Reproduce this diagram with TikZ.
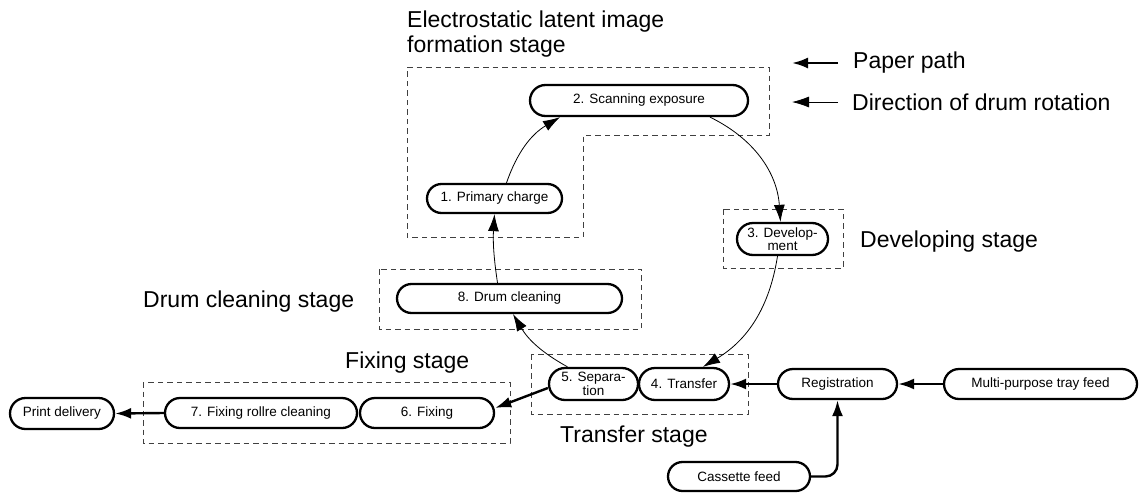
\documentclass[tikz,border=0pt]{standalone}
\usepackage{fontspec}
\setmainfont{Liberation Sans}
\usetikzlibrary{arrows.meta,shapes.misc}
\begin{document}
\begin{tikzpicture}[x=1pt,y=-1pt,
  proc/.style={rounded rectangle, draw, line width=2.3pt, inner sep=0pt, font=\fontsize{13.5}{13.5}\selectfont, align=center},
  stage/.style={draw=black!75, line width=0.9pt, dash pattern=on 5.5pt off 4pt},
  lbl/.style={inner sep=0pt, anchor=west, font=\fontsize{23}{25}\selectfont, align=left},
  paper/.style={line width=2.4pt, -{Latex[length=16pt,width=11pt]}},
  drum/.style={line width=0.8pt, -{Latex[length=17pt,width=11pt]}},
]
\useasboundingbox (0,0) rectangle (1143,493);

% stage boxes
\draw[stage] (407,67) -- (769,67) -- (769,135) -- (583,135) -- (583,237) -- (407,237) -- cycle;
\draw[stage] (723,209) rectangle (843,268);
\draw[stage] (531,354) rectangle (748,414);
\draw[stage] (379,269) rectangle (641,329);
\draw[stage] (143,382) rectangle (510,443);

% labels
\node[lbl] (t1) at (407,34) {Electrostatic latent image\\formation stage};
\node[lbl] (ppt) at (853,63) {Paper path};
\node[lbl] (drt) at (852,102) {Direction of drum rotation};
\node[lbl] (dev) at (860,242) {Developing stage};
\node[lbl] (dcs) at (143,302) {Drum cleaning stage};
\node[lbl] (fxs) at (345,363) {Fixing stage};
\node[lbl] (trs) at (560,437) {Transfer stage};

% legend arrows
\coordinate (pa) at (838,63);
\coordinate (pb) at (792,63);
\coordinate (da) at (838,102);
\coordinate (db) at (792,102);
\draw[paper] (pa) -- (pb);
\draw[drum] (da) -- (db);

% process nodes
\node[proc, minimum width=218pt, minimum height=31pt] (n2) at (639,100.5) {2. Scanning exposure};
\node[proc, minimum width=135pt, minimum height=29pt] (n1) at (494.5,198.5) {1. Primary charge};
\node[proc, minimum width=91pt, minimum height=32pt] (n3) at (782.5,239) {3. Develop-\\ment};
\node[proc, minimum width=89pt, minimum height=32pt] (n5) at (593.5,384) {5. Separa-\\tion};
\node[proc, minimum width=90pt, minimum height=32pt] (n4) at (684,384) {4. Transfer};
\node[proc, minimum width=225pt, minimum height=29pt] (n8) at (509.5,298.5) {8. Drum cleaning};
\node[proc, minimum width=192pt, minimum height=30pt] (n7) at (261,413) {7. Fixing rollre cleaning};
\node[proc, minimum width=134pt, minimum height=30pt] (n6) at (427,413) {6. Fixing};
\node[proc, minimum width=104pt, minimum height=31pt] (pd) at (62,413.5) {Print delivery};
\node[proc, minimum width=119pt, minimum height=30pt] (reg) at (837.5,384) {Registration};
\node[proc, minimum width=193pt, minimum height=30pt] (mp) at (1040.5,384) {Multi-purpose tray feed};
\node[proc, minimum width=142pt, minimum height=29pt] (cf) at (739,476.5) {Cassette feed};

% drum rotation arrows
\draw[drum] ([xshift=12pt]n1.north) to[bend left=20] ([xshift=-79pt]n2.south);
\draw[drum] ([xshift=71pt]n2.south) to[bend left=30] ([xshift=-2pt]n3.north);
\draw[drum] ([xshift=-5pt]n3.south) to[bend left=25] ([xshift=19pt]n4.north);
\draw[drum] ([xshift=-26pt]n5.north) to[bend left=15] ([xshift=3.5pt]n8.south);
\draw[drum] ([xshift=-12pt]n8.north) to[bend left=6] (n1.south);

% paper path arrows
\draw[paper] (mp.west) -- (reg.east);
\draw[paper] (reg.west) -- (n4.east);
\draw[paper, rounded corners=12pt] (cf.east) -| (reg.south);
\draw[paper] ([yshift=-4pt]n5.west) -- ([yshift=5pt]n6.east);
\draw[paper] (n7.west) -- (pd.east);
\end{tikzpicture}
\end{document}
